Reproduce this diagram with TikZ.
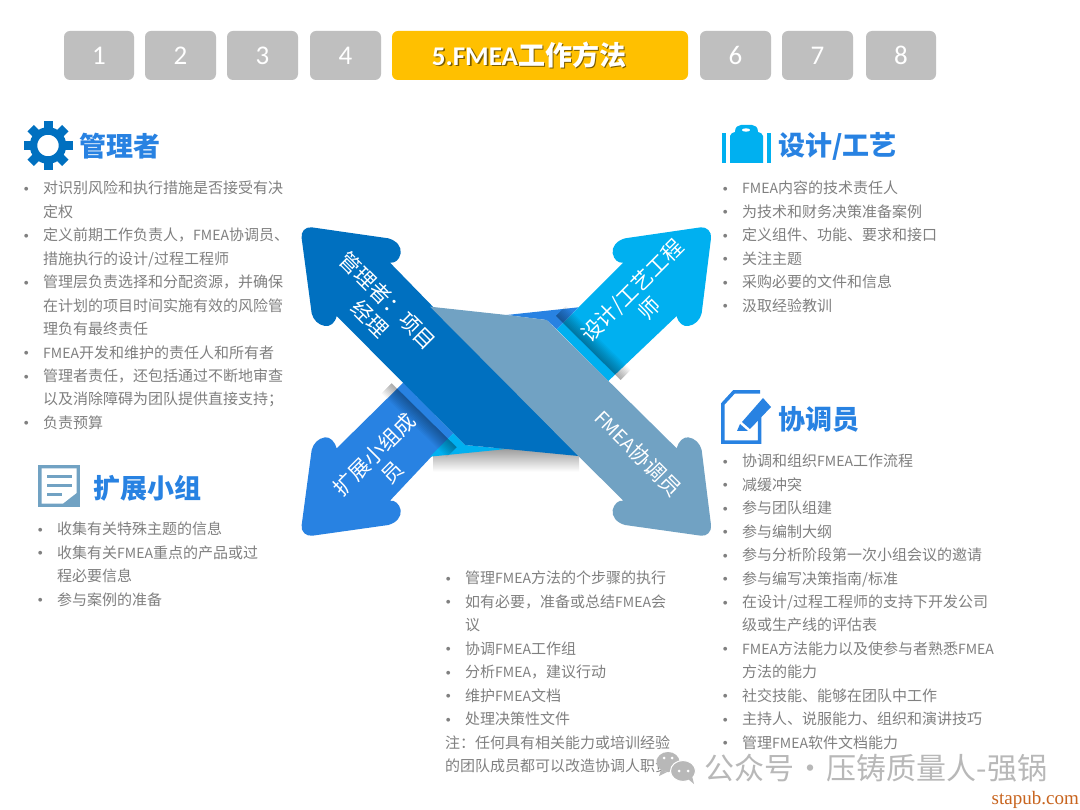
\documentclass[tikz,border=0pt]{standalone}
\usepackage{fontspec}
\setmainfont{Noto Sans CJK SC}
\newfontfamily\calfont{Carlito}
\newfontfamily\serfont{Liberation Serif}
\newfontfamily\dvfont{DejaVu Sans}
\definecolor{cdark}{HTML}{0070C0}
\definecolor{ccyan}{HTML}{00B0F0}
\definecolor{cblue}{HTML}{2882E2}
\definecolor{csteel}{HTML}{71A2C3}
\definecolor{ctxt}{HTML}{808080}
\definecolor{cgold}{HTML}{FFC000}
\definecolor{ctab}{HTML}{BFBFBF}
\definecolor{cmark}{HTML}{B8B8B8}
\definecolor{csite}{HTML}{C8641E}
\newcommand{\itm}[1]{\makebox[17pt][l]{\hspace*{-2pt}\raisebox{3.5pt}{\dvfont\fontsize{5}{5}\selectfont ●}}#1}
\newcommand{\cnt}[1]{\hspace*{17pt}#1}
\newcommand{\fm}{{\fontsize{14}{23.45}\selectfont FMEA}}
\tikzset{
  tabbtn/.style={fill=ctab,rounded corners=6pt,minimum height=49pt,inner sep=0pt,text=white,font=\calfont\fontsize{27}{27}\selectfont},
  listblock/.style={anchor=north west,inner sep=0pt,align=left,text=ctxt,font=\fontsize{15}{23.45}\selectfont},
  headline/.style={anchor=west,inner sep=0pt,text=cblue,font=\bfseries\fontsize{27}{27}\selectfont},
  arrowtext/.style={align=center,inner sep=0pt,text=white,font=\fontsize{21}{25}\selectfont},
  zoomed/.style={shift={(280,210)},x=0.33333pt,y=-0.33333pt}
}
\begin{document}
\begin{tikzpicture}[x=1pt,y=-1pt]
\useasboundingbox (0,0) rectangle (1080,810);
\fill[white] (0,0) rectangle (1080,810);

% tab bar
\node[tabbtn,minimum width=70pt] (t1) at (99,55.5) {1};
\node[tabbtn,minimum width=71pt] (t2) at (180.5,55.5) {2};
\node[tabbtn,minimum width=71pt] (t3) at (262.5,55.5) {3};
\node[tabbtn,minimum width=71pt] (t4) at (345.5,55.5) {4};
\node[tabbtn,fill=cgold,minimum width=296pt] (t5) at (540,55.5) {};
\node[anchor=center,inner sep=0pt,text=black!70!cgold,opacity=.75,font=\bfseries\fontsize{27}{27}\selectfont] (t5s) at (530.5,56.5) {\calfont 5.FMEA\rmfamily 工作方法};
\node[anchor=center,inner sep=0pt,text=white,font=\bfseries\fontsize{27}{27}\selectfont] (t5t) at (529,55) {\calfont 5.FMEA\rmfamily 工作方法};
\node[tabbtn,minimum width=71pt] (t6) at (735.5,55.5) {6};
\node[tabbtn,minimum width=71pt] (t7) at (817.5,55.5) {7};
\node[tabbtn,minimum width=70pt] (t8) at (901,55.5) {8};

% central crossing arrows, in the coordinates of a 3x crop
\begin{scope}[zoomed]
\shade[top color=black!38,bottom color=white] (460,717) rectangle (897,785);
% cyan arrow
\fill[ccyan] (1030,158) -- (830,358) -- (985,513) -- (1190,318)
  .. controls (1195,340) and (1210,350) .. (1225,348)
  .. controls (1245,345) and (1260,330) .. (1265,310) -- (1293,85)
  .. controls (1296,65) and (1280,50) .. (1262,52) -- (1035,85)
  .. controls (1010,92) and (995,110) .. (998,130)
  .. controls (1002,150) and (1015,160) .. (1030,158) -- cycle;
% blue arrow
\fill[cblue] (170,715) -- (370,518) -- (520,670) -- (330,872)
  .. controls (345,870) and (358,882) .. (362,900)
  .. controls (365,920) and (350,938) .. (325,945) -- (98,977)
  .. controls (78,980) and (62,965) .. (65,945) -- (95,720)
  .. controls (100,700) and (115,685) .. (135,682)
  .. controls (150,680) and (165,695) .. (170,715) -- cycle;
% pieces of them behind the crossing
\fill[ccyan] (450,740) -- (520,670) -- (555,705) -- (680,717) -- cycle;
\fill[cblue] (680,315) -- (895,292) -- (830,358) -- (800,330) -- cycle;
% fold shadows
\foreach \d in {3,6,...,30}{
  \fill[black,opacity=.035] (335,520) -- (530,712) -- ({530-\d},{712+\d}) -- ({335-\d},{520+\d}) -- cycle;
  \fill[black,opacity=.035] (828,318) -- (1022,510) -- ({1022+\d},{510-\d}) -- ({828+\d},{318-\d}) -- cycle;
}
% dark arrow
\fill[cdark] (95,52) -- (325,85)
  .. controls (350,92) and (365,110) .. (362,130)
  .. controls (358,150) and (345,160) .. (330,158) -- (895,738) -- (680,717) -- (555,705) -- (170,318)
  .. controls (165,340) and (150,350) .. (135,348)
  .. controls (115,345) and (100,330) .. (95,310) -- (65,85)
  .. controls (62,65) and (75,50) .. (95,52) -- cycle;
% steel arrow
\fill[csteel] (450,290) -- (680,315) -- (800,330) -- (1190,715)
  .. controls (1195,695) and (1210,680) .. (1225,682)
  .. controls (1245,685) and (1260,700) .. (1265,720) -- (1293,945)
  .. controls (1296,965) and (1280,980) .. (1262,977) -- (1035,945)
  .. controls (1010,938) and (995,920) .. (998,900)
  .. controls (1002,882) and (1015,870) .. (1030,872) -- (895,738) -- cycle;
\node[arrowtext,rotate=-45] (amgr) at (298,298) {管理者：项目\\经理};
\node[arrowtext,rotate=45] (ades) at (1082,268) {设计/工艺工程\\师};
\node[arrowtext,rotate=45] (aext) at (310,760) {扩展小组成\\员};
\node[arrowtext,rotate=-45] (acoo) at (1075,730) {{\fontsize{19}{25}\selectfont FMEA}协调员};
\end{scope}

% gear icon
\draw[cdark,line width=7.5pt] (48,145.5) circle (14.5);
\foreach \a in {0,45,...,315}{
  \fill[cdark,rotate around={\a:(48,145.5)}] (43.5,121) rectangle (52.5,130);
}
\node[headline] (h1) at (79,146) {管理者};
\node[listblock] (l1) at (26,181) {%
\itm{对识别风险和执行措施是否接受有决}\\
\cnt{定权}\\
\itm{定义前期工作负责人，\fm{}协调员、}\\
\cnt{措施执行的设计/过程工程师}\\
\itm{管理层负责选择和分配资源，并确保}\\
\cnt{在计划的项目时间实施有效的风险管}\\
\cnt{理负有最终责任}\\
\itm{\fm{}开发和维护的责任人和所有者}\\
\itm{管理者责任，还包括通过不断地审查}\\
\cnt{以及消除障碍为团队提供直接支持；}\\
\itm{负责预算}};

% bag icon
\fill[ccyan] (722,133) rectangle (726,163);
\fill[ccyan] (767,133) rectangle (771,163);
\fill[ccyan,even odd rule] (730,163) -- (730,136) .. controls (730,133) and (733,133) .. (735,132)
  .. controls (735,127) and (738,125) .. (741,125) -- (752,125)
  .. controls (755,125) and (758,127) .. (758,132)
  .. controls (760,133) and (763,133) .. (763,136) -- (763,163) -- cycle
  (746,130) ellipse (4.5 and 1.7);
\node[headline] (h2) at (778,146) {设计/工艺};
\node[listblock] (l2) at (725,181) {%
\itm{\fm{}内容的技术责任人}\\
\itm{为技术和财务决策准备案例}\\
\itm{定义组件、功能、要求和接口}\\
\itm{关注主题}\\
\itm{采购必要的文件和信息}\\
\itm{汲取经验教训}};

% page and pen icon
\draw[cblue,line width=3.5pt] (759.5,416) -- (759.5,442.2) -- (722.8,442.2) -- (722.8,404) -- (734,391.8) -- (760,391.8);
\fill[cblue] (742,422) -- (763,398) -- (771,407) -- (750,429) -- cycle;
\fill[cblue] (737,431) -- (740,424) -- (748,431) -- cycle;
\node[headline] (h3) at (778,419) {协调员};
\node[listblock] (l3) at (725,454) {%
\itm{协调和组织\fm{}工作流程}\\
\itm{减缓冲突}\\
\itm{参与团队组建}\\
\itm{参与编制大纲}\\
\itm{参与分析阶段第一次小组会议的邀请}\\
\itm{参与编写决策指南/标准}\\
\itm{在设计/过程工程师的支持下开发公司}\\
\cnt{级或生产线的评估表}\\
\itm{\fm{}方法能力以及使参与者熟悉\fm{}}\\
\cnt{方法的能力}\\
\itm{社交技能、能够在团队中工作}\\
\itm{主持人、说服能力、组织和演讲技巧}\\
\itm{管理\fm{}软件文档能力}};

% note icon
\fill[csteel] (38,465) rectangle (80,507);
\fill[white] (41.5,468.5) -- (76.5,468.5) -- (76.5,493) -- (63,503.5) -- (41.5,503.5) -- cycle;
\fill[csteel] (46.5,475.5) rectangle (72,478);
\fill[csteel] (46.5,484) rectangle (72,486.5);
\fill[csteel] (46.5,493) rectangle (62,495.5);
\node[headline] (h4) at (93,488) {扩展小组};
\node[listblock] (l4) at (40,522) {%
\itm{收集有关特殊主题的信息}\\
\itm{收集有关\fm{}重点的产品或过}\\
\cnt{程必要信息}\\
\itm{参与案例的准备}};

% middle list
\node[listblock] (l5) at (448,571) {%
\itm{管理\fm{}方法的个步骤的执行}\\
\itm{如有必要，准备或总结\fm{}会}\\
\cnt{议}\\
\itm{协调\fm{}工作组}\\
\itm{分析\fm{}，建议行动}\\
\itm{维护\fm{}文档}\\
\itm{处理决策性文件}\\
\hspace*{-3pt}注：任何具有相关能力或培训经验\\
\hspace*{-3pt}的团队成员都可以改造协调人职责};

% watermark
\fill[cmark] (668,762) ellipse (11.5 and 10);
\fill[cmark] (661,770) -- (659,776) -- (667,772) -- cycle;
\fill[cmark,draw=white,line width=1pt] (683,771) ellipse (12.5 and 10.5);
\fill[cmark] (688,779) -- (694,784) -- (692,776) -- cycle;
\fill[white] (664,758) circle (1.5);
\fill[white] (672,758) circle (1.5);
\fill[white] (679,771) circle (1.5);
\fill[white] (688,771) circle (1.5);
\node[anchor=west,inner sep=0pt,text=cmark,font=\fontsize{30}{30}\selectfont] (wm) at (704,768) {公众号\kern-5.5pt{} · \kern-5.5pt{}压铸质量人-强锅};
\node[anchor=east,inner sep=0pt,text=csite,font=\serfont\fontsize{19}{19}\selectfont] (site) at (1079,800) {stapub.com};
\end{tikzpicture}
\end{document}
